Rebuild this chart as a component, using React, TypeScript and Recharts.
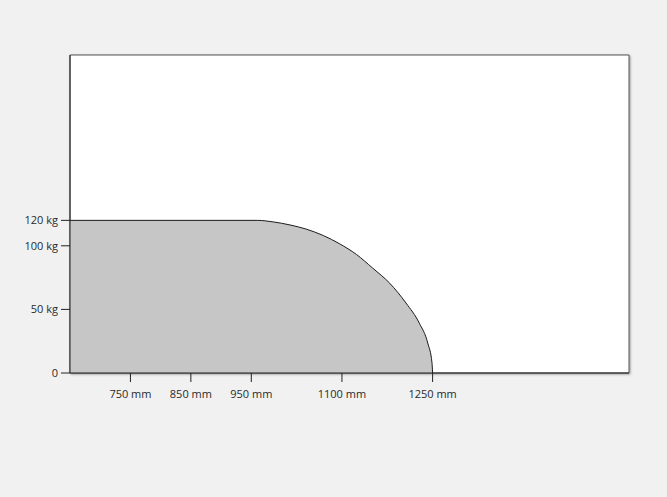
import { AreaChart, Area, XAxis, YAxis, CartesianGrid, ReferenceArea } from 'recharts'

// load curve: max load (kg) by reach (mm)
const reachMm = [650, 960, 986, 1014, 1041, 1069, 1096, 1124, 1151, 1179, 1206, 1228, 1242, 1249, 1250]
const loadKg = [120, 120, 118.8, 116.4, 113.1, 108.1, 101.6, 93.2, 82.4, 70.6, 55, 39.2, 23.5, 8, 0]

const xTicks = [750, 850, 950, 1100, 1250]
const yTicks = [0, 50, 100, 120]

const data = reachMm.map((mm, i) => ({ mm, kg: loadKg[i] }))

const tickStyle = { fill: '#2a2a2a', fontSize: 11, fontFamily: 'Open Sans, sans-serif' }

export default function App() {
  return (
    <div style={{ position: 'absolute', left: 0, top: 0, width: 667, height: 497, background: '#f1f1f1' }}>
      <AreaChart width={667} height={497} data={data} margin={{ top: 55, right: 38, left: 0, bottom: 94 }}>
        <defs>
          <filter id="boxShadow" x="-5%" y="-5%" width="110%" height="110%">
            <feDropShadow dx="1" dy="1" stdDeviation="1" floodColor="#000" floodOpacity="0.35" />
          </filter>
        </defs>
        <ReferenceArea
          x1={650}
          x2={1575}
          y1={0}
          y2={250}
          fill="#fff"
          fillOpacity={1}
          stroke="#555"
          strokeWidth={1}
          style={{ filter: 'url(#boxShadow)' }}
          ifOverflow="visible"
        />
        <CartesianGrid horizontal={false} vertical={false} />
        <XAxis
          dataKey="mm"
          type="number"
          domain={[650, 1575]}
          ticks={xTicks}
          tickFormatter={(v) => `${v} mm`}
          tick={tickStyle}
          tickSize={9}
          tickMargin={8}
          height={30}
          stroke="#222"
          allowDataOverflow
        />
        <YAxis
          type="number"
          domain={[0, 250]}
          ticks={yTicks}
          tickFormatter={(v) => (v === 0 ? '0' : `${v} kg`)}
          tick={tickStyle}
          tickSize={9}
          tickMargin={3}
          width={70}
          stroke="#222"
        />
        <Area
          type="monotone"
          dataKey="kg"
          stroke="#1a1a1a"
          strokeWidth={1}
          fill="#c6c6c6"
          fillOpacity={1}
          isAnimationActive={false}
        />
      </AreaChart>
    </div>
  )
}
